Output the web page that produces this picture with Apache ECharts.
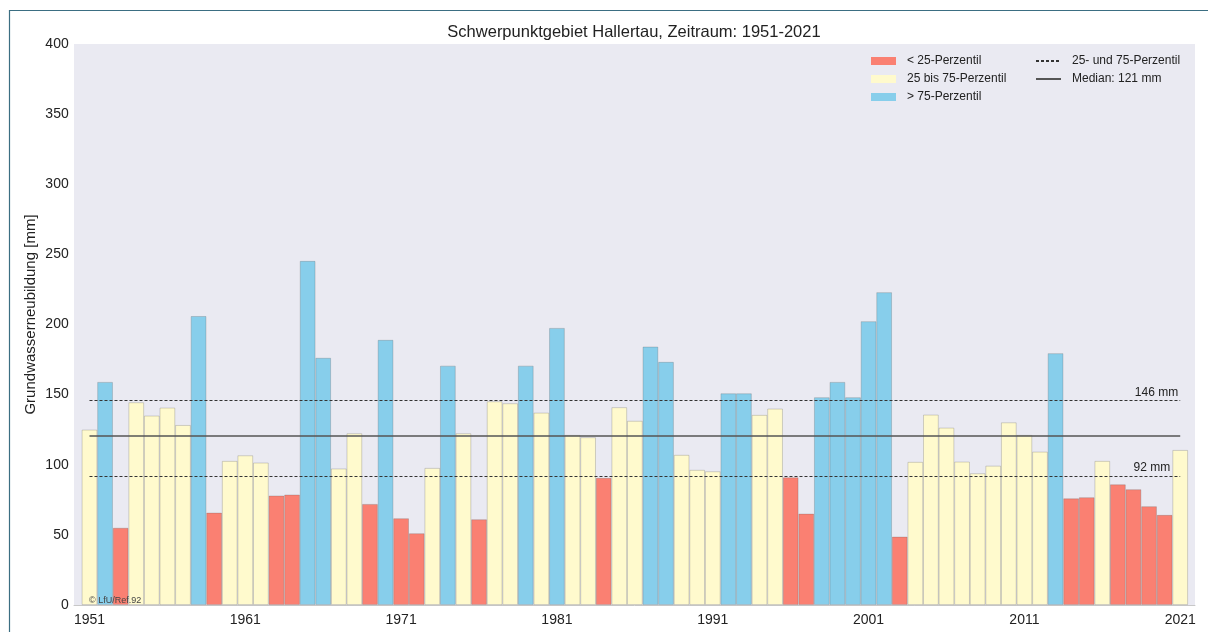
<!DOCTYPE html>
<html>
<head>
<meta charset="utf-8">
<script src="https://cdn.jsdelivr.net/npm/echarts@6/dist/echarts.min.js"></script>
<style>
    html, body { margin: 0; padding: 0; background: #fff; }
    #chart { width: 1208px; height: 632px; }
</style>
</head>
<body>
<div id="chart"></div>
<script>
// Grundwasserneubildung je Jahr [mm]
var years = [];
for (var y = 1951; y <= 2021; y++) years.push(String(y));

var values = [
    125, 159, 55, 144.5, 135, 140.7, 128.3, 206, 65.8, 102.7,
    106.7, 101.5, 78, 78.7, 245.3, 176.2, 97.3, 122.4, 72, 189,
    61.8, 51.1, 97.7, 170.6, 122.4, 61.1, 145.2, 143.8, 170.6, 137.1,
    197.5, 121.2, 119.6, 90.6, 141, 131.3, 184.2, 173.3, 107, 96.3,
    95.3, 150.9, 150.9, 135.5, 140, 91, 65.1, 148.1, 159, 148.1,
    202.3, 223, 48.7, 102, 135.7, 126.4, 102.2, 93.9, 99.3, 130.2,
    121.2, 109.3, 179.5, 76, 76.8, 102.7, 86, 82.5, 70.4, 64.2,
    110.5
];

var p25 = 92;
var p75 = 146;
var median = 121;

var yTicks = [0, 50, 100, 150, 200, 250, 300, 350, 400];

var lowData = [], midData = [], highData = [];
for (var i = 0; i < values.length; i++) {
    var v = values[i];
    lowData.push(v < p25 ? v : '-');
    midData.push(v >= p25 && v <= p75 ? v : '-');
    highData.push(v > p75 ? v : '-');
}

var myChart = echarts.init(document.getElementById('chart'));

var barBorder = {borderColor: 'rgba(90,90,90,0.32)', borderWidth: 0.8};
var legendText = {fontFamily: 'Liberation Sans', fontSize: 12, color: '#222', lineHeight: 14, padding: [0, 0, 0, 6]};

myChart.setOption({
    animation: false,
    title: {
        text: 'Schwerpunktgebiet Hallertau, Zeitraum: 1951-2021',
        left: 634,
        top: 24,
        padding: 0,
        textAlign: 'center',
        textStyle: {fontFamily: 'Liberation Sans', fontSize: 16.5, fontWeight: 'normal', color: '#222'}
    },
    legend: [{
        data: ['< 25-Perzentil', '25 bis 75-Perzentil', '> 75-Perzentil'],
        orient: 'vertical',
        left: 871,
        top: 54,
        padding: 0,
        icon: 'rect',
        itemWidth: 25,
        itemHeight: 8,
        itemGap: 4,
        selectedMode: false,
        itemStyle: {borderWidth: 0},
        textStyle: legendText
    }, {
        data: ['25- und 75-Perzentil', 'Median: 121 mm'],
        orient: 'vertical',
        left: 1035,
        top: 54,
        padding: 0,
        itemWidth: 25,
        itemHeight: 8,
        itemGap: 4,
        selectedMode: false,
        itemStyle: {opacity: 0},
        textStyle: legendText
    }],
    grid: [{
        left: 81.7, right: 20, top: 44, bottom: 27
    }, {
        left: 74, right: 13, top: 44, bottom: 27,
        show: true, backgroundColor: '#EAEAF2', borderWidth: 0
    }],
    xAxis: [{
        type: 'category',
        data: years,
        gridIndex: 0,
        axisLine: {show: false},
        axisTick: {show: false},
        axisLabel: {interval: 9, fontFamily: 'Liberation Sans', fontSize: 14, color: '#222', margin: 8}
    }, {
        type: 'value',
        gridIndex: 1,
        axisLine: {show: true, lineStyle: {color: '#c8c8c8', width: 1}},
        axisTick: {show: false},
        axisLabel: {show: false},
        splitLine: {show: false}
    }],
    yAxis: [{
        type: 'value',
        gridIndex: 0,
        min: yTicks[0],
        max: yTicks[yTicks.length - 1],
        interval: 50,
        name: 'Grundwasserneubildung [mm]',
        nameLocation: 'middle',
        nameGap: 43,
        nameMoveOverlap: false,
        nameTextStyle: {fontFamily: 'Liberation Sans', fontSize: 15, color: '#222', padding: [0, 0, 0, 20]},
        axisLine: {show: false},
        axisTick: {show: false},
        splitLine: {show: false},
        axisLabel: {fontFamily: 'Liberation Sans', fontSize: 14, color: '#222', margin: 13}
    }, {
        type: 'value',
        gridIndex: 1,
        show: false
    }],
    series: [{
        name: '< 25-Perzentil',
        type: 'bar',
        stack: 'gwn',
        barCategoryGap: '0%',
        itemStyle: Object.assign({color: '#FA8072'}, barBorder),
        data: lowData
    }, {
        name: '25 bis 75-Perzentil',
        type: 'bar',
        stack: 'gwn',
        barCategoryGap: '0%',
        itemStyle: Object.assign({color: '#FFFACD'}, barBorder),
        data: midData
    }, {
        name: '> 75-Perzentil',
        type: 'bar',
        stack: 'gwn',
        barCategoryGap: '0%',
        itemStyle: Object.assign({color: '#87CEEB'}, barBorder),
        data: highData
    }, {
        name: '25- und 75-Perzentil',
        type: 'line',
        symbol: 'none',
        itemStyle: {color: '#333'},
        lineStyle: {color: '#333', width: 1, type: [3, 2]},
        data: [],
        markLine: {
            silent: true,
            symbol: ['none', 'none'],
            lineStyle: {color: '#333', width: 1, type: [3, 2]},
            label: {
                show: true,
                position: 'insideEndTop',
                distance: 2,
                fontFamily: 'Liberation Sans',
                fontSize: 12,
                color: '#222'
            },
            data: [
                [{coord: [years[0], p75]}, {coord: [years[years.length - 1], p75], label: {formatter: p75 + ' mm'}}],
                [{coord: [years[0], p25]}, {coord: [years[years.length - 1], p25], label: {formatter: p25 + ' mm', padding: [0, 8, 0, 0]}}]
            ]
        }
    }, {
        name: 'Median: 121 mm',
        type: 'line',
        symbol: 'none',
        itemStyle: {color: '#555'},
        lineStyle: {color: '#555', width: 1.5},
        data: [],
        markLine: {
            silent: true,
            symbol: ['none', 'none'],
            lineStyle: {color: '#555', width: 1.5, type: 'solid'},
            label: {show: false},
            data: [
                [{coord: [years[0], median]}, {coord: [years[years.length - 1], median]}]
            ]
        }
    }],
    graphic: [{
        type: 'rect',
        silent: true,
        shape: {x: 9.5, y: 10.5, width: 1400, height: 800},
        style: {fill: 'none', stroke: '#3B6E82', lineWidth: 1.2}
    }, {
        type: 'text',
        left: 89,
        top: 596,
        z: 10,
        style: {text: '\u00A9 LfU/Ref.92', fontFamily: 'Liberation Sans', fontSize: 9, fill: '#444'}
    }]
});

window.onresize = function () {
    myChart.resize();
};
</script>
</body>
</html>
